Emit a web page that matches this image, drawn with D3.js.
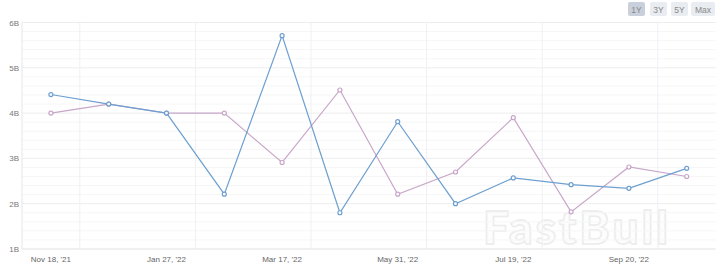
<!DOCTYPE html>
<html><head><meta charset="utf-8">
<script src="https://cdn.jsdelivr.net/npm/d3@7/dist/d3.min.js"></script>
<style>body{margin:0;background:#fff;}svg{display:block;font-family:"Liberation Sans","DejaVu Sans",sans-serif;}</style>
</head><body><svg id="c" width="720" height="273"></svg>
<script>
const categories = ["Nov 18, '21","Dec 22, '21","Jan 27, '22","Feb 17, '22","Mar 17, '22","Apr 20, '22","May 31, '22","Jun 21, '22","Jul 19, '22","Aug 18, '22","Sep 20, '22","Oct 24, '22"];
const actual = [4.41,4.20,4.00,2.21,5.71,1.80,3.81,2.00,2.57,2.42,2.34,2.78];
const forecast = [4.00,4.20,4.00,4.00,2.91,4.51,2.21,2.70,3.90,1.82,2.81,2.60];
const yTicks = [1,2,3,4,5,6];
const yTickLabels = ["1B","2B","3B","4B","5B","6B"];
const ranges = ["1Y","3Y","5Y","Max"];

const svg = d3.select("#c");
const L = 22, R = 715.6, T = 22.5, B = 249;
const x = d3.scaleBand().domain(categories).range([L, R]);
const y = d3.scaleLinear().domain([1, 6]).range([B, T]);

// watermark (behind everything)
svg.append("text").attr("x", 577).attr("y", 244).attr("text-anchor", "middle")
  .attr("font-family", "Lato, 'Open Sans', sans-serif").attr("font-weight", 900)
  .attr("font-size", 46).attr("fill", "#fdfdfd").attr("stroke", "#ececec").attr("stroke-width", 1.5)
  .attr("letter-spacing", 3).text("FastBull");

// minor grid
const minor = d3.range(1, 6.001, 0.2).filter(v => Math.abs(v - Math.round(v)) > 0.01);
svg.append("g").selectAll("line").data(minor).join("line")
  .attr("x1", L).attr("x2", R).attr("y1", d => y(d)).attr("y2", d => y(d))
  .attr("stroke", "#f6f6f6").attr("stroke-width", 1);
// major grid
svg.append("g").selectAll("line").data(yTicks.slice(1)).join("line")
  .attr("x1", L).attr("x2", R).attr("y1", d => y(d)).attr("y2", d => y(d))
  .attr("stroke", "#ededed").attr("stroke-width", 1);
// vertical grid at band boundaries (every other)
const vIdx = d3.range(1, categories.length, 2);
svg.append("g").selectAll("line").data(vIdx).join("line")
  .attr("x1", i => x(categories[i])).attr("x2", i => x(categories[i]))
  .attr("y1", T).attr("y2", B)
  .attr("stroke", "#eef0f4").attr("stroke-width", 1);
// axis lines
svg.append("line").attr("x1", L).attr("x2", L).attr("y1", T).attr("y2", B).attr("stroke", "#e6e6e6");
svg.append("line").attr("x1", L).attr("x2", R).attr("y1", B).attr("y2", B).attr("stroke", "#e0e0e0");

// y labels
svg.append("g").selectAll("text").data(yTicks).join("text")
  .attr("x", 19).attr("y", d => y(d) + 3).attr("text-anchor", "end")
  .attr("font-size", 8).attr("fill", "#777").text((d, i) => yTickLabels[i]);
// x labels
svg.append("g").selectAll("text").data(categories.filter((c, i) => i % 2 === 0)).join("text")
  .attr("x", d => x(d) + x.bandwidth() / 2).attr("y", 262).attr("text-anchor", "middle")
  .attr("font-size", 8).attr("fill", "#666").text(d => d);

const cx = d => x(d) + x.bandwidth() / 2;
function series(vals, color) {
  const line = d3.line().x((d, i) => cx(categories[i])).y(d => y(d));
  svg.append("path").datum(vals).attr("d", line).attr("fill", "none")
    .attr("stroke", color).attr("stroke-width", 1.2);
  svg.append("g").selectAll("circle").data(vals).join("circle")
    .attr("cx", (d, i) => cx(categories[i])).attr("cy", d => y(d)).attr("r", 2)
    .attr("fill", "#fff").attr("stroke", color).attr("stroke-width", 1.2);
}
series(forecast, "#c8a6c8");
series(actual, "#6d9fd0");

// range buttons
const bx = [628, 650, 671, 691], bw = [17, 17, 17, 24];
const bg = svg.append("g");
ranges.forEach((r, i) => {
  bg.append("rect").attr("x", bx[i]).attr("y", 2).attr("width", bw[i]).attr("height", 14).attr("rx", 2)
    .attr("fill", i === 0 ? "#c9d0db" : "#e9ecf0");
  bg.append("text").attr("x", bx[i] + bw[i] / 2).attr("y", 12.5).attr("text-anchor", "middle")
    .attr("font-size", 8.5).attr("fill", "#888").text(r);
});
</script></body></html>
